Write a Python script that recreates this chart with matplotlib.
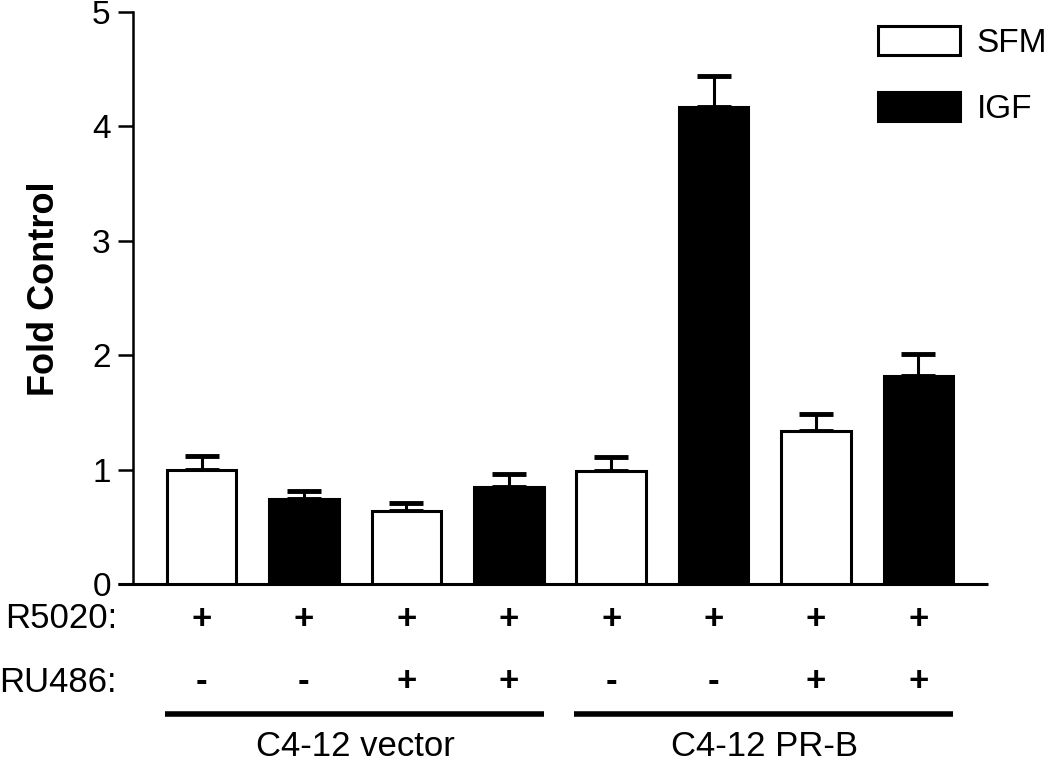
import numpy as np
import matplotlib
matplotlib.use("Agg")
import matplotlib.pyplot as plt
from matplotlib.patches import Patch
from matplotlib.transforms import blended_transform_factory

plt.rcParams['font.family'] = ['Liberation Sans', 'DejaVu Sans']

# data
treatment = ["SFM", "IGF", "SFM", "IGF", "SFM", "IGF", "SFM", "IGF"]
fold = [1.00, 0.74, 0.64, 0.85, 0.99, 4.17, 1.34, 1.82]
err = [0.12, 0.07, 0.07, 0.11, 0.12, 0.27, 0.15, 0.19]
r5020 = ["+", "+", "+", "+", "+", "+", "+", "+"]
ru486 = ["-", "-", "+", "+", "-", "-", "+", "+"]
groups = ["C4-12 vector", "C4-12 PR-B"]
group_bars = [(0, 3), (4, 7)]
colors = {"SFM": "white", "IGF": "black"}

fig = plt.figure(figsize=(10.5, 7.62), dpi=100)
ax = fig.add_axes([133/1050, 1-584/762, (988-133)/1050, (584-12)/762])

x = np.arange(len(fold))
ax.bar(x, fold, width=0.68, color=[colors[t] for t in treatment],
       edgecolor="black", linewidth=2.2, zorder=3)
ax.errorbar(x, fold, yerr=[np.zeros(len(err)), err], fmt="none",
            ecolor="black", elinewidth=2.2, capsize=12, capthick=3.5, zorder=2)

ax.set_xlim(-0.669, 7.68)
ax.set_ylim(0, 5)
ax.set_yticks([0, 1, 2, 3, 4, 5])
ax.set_xticks([])
ax.tick_params(axis="y", length=11, width=1.8, labelsize=24, pad=5)
for s in ["top", "right", "bottom"]:
    ax.spines[s].set_visible(False)
ax.spines["left"].set_linewidth(1.8)
# x axis line sticks out a little left of the y axis
ax.plot([-0.018, 1], [0, 0], transform=ax.get_yaxis_transform(),
        color="black", lw=2.2, clip_on=False, solid_capstyle="butt")

ax.set_ylabel("Fold Control", fontsize=26, fontweight="bold")
ax.yaxis.set_label_coords(-0.083, 0.517)

# treatment rows below the axis
tr = blended_transform_factory(ax.transData, fig.transFigure)
fig.text(117/1050, 1-619/762, "R5020:", fontsize=25, ha="right", va="center")
fig.text(117/1050, 1-682/762, "RU486:", fontsize=25, ha="right", va="center")
for i in range(len(x)):
    ax.text(x[i], 1-619/762, r5020[i], transform=tr, fontsize=25,
            fontweight="bold", ha="center", va="center")
    ax.text(x[i], 1-682/762, ru486[i], transform=tr, fontsize=25,
            fontweight="bold", ha="center", va="center")

for name, (a, b) in zip(groups, group_bars):
    ax.plot([a - 0.36, b + 0.34], [1-714/762]*2, transform=tr, color="black",
            lw=4, clip_on=False, solid_capstyle="butt")
    ax.text((a + b) / 2, 1-747/762, name, transform=tr, fontsize=25,
            ha="center", va="center")

handles = [Patch(facecolor="white", edgecolor="black", linewidth=2.2, label="SFM"),
           Patch(facecolor="black", edgecolor="black", linewidth=2.2, label="IGF")]
fig.legend(handles=handles, loc="upper left", bbox_to_anchor=(878/1050, 1-26/762),
           frameon=False, fontsize=24, handlelength=2.46, handleheight=0.95,
           handletextpad=0.5, labelspacing=1.0, borderpad=0, borderaxespad=0)

fig.savefig("out.png", dpi=100)
